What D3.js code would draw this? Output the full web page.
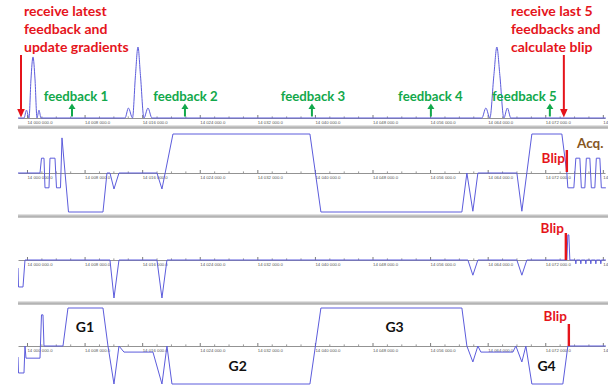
<!DOCTYPE html>
<html><head><meta charset="utf-8">
<script src="https://cdn.jsdelivr.net/npm/d3@7/dist/d3.min.js"></script>
<style>
body{margin:0;background:#fff}
svg{display:block}
text{font-family:Lato,"Open Sans",sans-serif}
</style>
</head><body>
<svg id="c" width="615" height="385"></svg>
<script>
// ---- data ----
const tickValues = [14000000,14008000,14016000,14024000,14032000,14040000,14048000,14056000,14064000,14072000,14080000];
const tickLabels = ["14 000 000.0","14 008 000.0","14 016 000.0","14 024 000.0","14 032 000.0","14 040 000.0","14 048 000.0","14 056 000.0","14 064 000.0","14 072 000.0","14"];

// RF (normalised magnitude)
const rfTimes = [13998750,13999583,13999931,14000278,14000556,14000833,14001111,14001389,14001667,14001944,
  14013611,14014097,14014653,14015069,14015417,14015764,14016250,14016806,14017361,
  14063194,14063750,14064306,14064861,14065278,14065694,14066250,14066736,14067222,14080400];
const rfAmps  = [0,0,0.11,0,0.55,0.86,0.55,0,0.11,0,
  0,0.14,0,0.6,1,0.6,0,0.14,0,
  0,0.14,0,0.6,1,0.6,0,0.14,0,0];

// Gradient 1 (readout axis)
const g1Times = [13998750,14001806,14002014,14002361,14002500,14003056,14003194,14003889,14004097,14004653,14004861,14005764,
  14010556,14011111,14011528,14012083,14012778,14018056,14018750,14020278,14039306,14040833,14060417,14061111,14061944,14062639,
  14068056,14068750,14070139,14074306,14075000,14075139,14075972,14076250,14076806,14077014,14077500,14077708,14078194,14078403,
  14078889,14079097,14079583,14079792,14080417];
const g1Amps  = [0,0,0.38,0.38,-0.38,-0.38,0.38,0.38,-0.38,-0.38,0.9,-1,
  -1,0,0,-0.41,0,0,-0.41,1,1,-1,-1,0,-0.98,0,
  0,-0.98,1,1,0,-0.38,-0.38,0.38,0.38,-0.38,-0.38,0.38,0.38,-0.38,
  -0.38,0.38,0.38,-0.38,-0.38];

// Gradient 2 (phase axis)
const g2Times = [13998750,13998819,13999444,13999722,14011528,14012083,14012778,14018056,14018750,14019444,
  14061250,14061944,14062639,14068056,14068750,14069444,14075000,14075139,14075278,14075417,
  14076190,14076250,14076310,14076880,14076944,14077000,14077580,14077640,14077700,
  14078270,14078330,14078390,14078970,14079030,14079090,14079660,14079720,14079780,14080417];
const g2Amps  = [-0.21,-0.71,-0.71,0,0,-1,0,0,-1,0,
  0,-0.4,0,0,-0.4,0,0,0.66,0.66,0,
  0,-0.1,0,0,-0.1,0,0,-0.1,0,
  0,-0.1,0,0,-0.1,0,0,-0.1,0,0];

// Gradient 3 (slice axis)
const g3Times = [13998750,13998819,13999583,13999722,13999861,14001806,14002014,14002222,14002361,14005000,14005694,
  14010556,14011250,14012083,14012778,14013472,14017500,14018750,14019444,14020139,14039306,14040833,
  14060417,14061111,14061944,14062639,14063056,14067500,14067917,14068750,14069306,14070139,14074444,14075139,14080417];
const g3Amps  = [-0.29,-0.71,-0.71,0,-0.32,-0.32,0.82,0.82,0,0,1,
  1,0,-1,0,-0.16,-0.16,-1,0,-1,-1,1,
  1,0,-0.42,0,-0.16,-0.16,0,-0.42,0,-1,-1,0,0];

const feedbackLabels = ["feedback 1","feedback 2","feedback 3","feedback 4","feedback 5"];
const feedbackTimes  = [14006250,14021944,14039583,14056111,14072639];
const feedbackLabelShift = [4,0.5,1,-0.5,-25.5];

const leftNote  = ["receive latest","feedback and","update gradients"];
const rightNote = ["receive last 5","feedbacks and","calculate blip"];
const receiveTimes = [13999167,14074583];
const blipTimes = [14075000,14074861,14075278];
const gradLabels = ["G1","G2","G3","G4"];
const gradLabelTimes = [14008042,14029264,14051069,14072181];
const gradLabelSide = [1,-1,1,-1];

// ---- drawing ----
const svg = d3.select("#c");
const W = 615, H = 385;
const x = d3.scaleLinear().domain([13998750,14080300]).range([18,605]);
const RED = "#e5141b", GREEN = "#12a84b", BLUE = "#5c5cdc", BROWN = "#86561f";

svg.append("defs").append("clipPath").attr("id","clip")
  .append("rect").attr("x",18).attr("y",0).attr("width",590).attr("height",H);

const panels = [
  {t: rfTimes, a: rfAmps, base: 118, unit: 71, rf: true},
  {t: g1Times, a: g1Amps, base: 173, unit: 39},
  {t: g2Times, a: g2Amps, base: 260, unit: 38},
  {t: g3Times, a: g3Amps, base: 346, unit: 38}
];
const separators = [127, 216, 303];

const plot = svg.append("g").attr("clip-path","url(#clip)");

// separators
separators.forEach(s => {
  plot.append("rect").attr("x",18).attr("y",s-1.5).attr("width",590).attr("height",3).attr("fill","#c4c4c4");
  plot.append("line").attr("x1",18).attr("x2",608).attr("y1",s+1).attr("y2",s+1).attr("stroke","#9c9c9c").attr("stroke-width",0.8);
});

const minorTicks = d3.range(13998000, 14082001, 2000).filter(v => !tickValues.includes(v));

panels.forEach(p => {
  const y = d3.scaleLinear().domain([-1,1]).range([p.base+p.unit, p.base-p.unit]);
  const g = plot.append("g");
  // axis
  const ax = g.append("g").attr("transform",`translate(0,${p.base})`)
    .call(d3.axisTop(x).tickValues(tickValues).tickSize(3).tickSizeOuter(0).tickFormat(""));
  ax.select(".domain").attr("stroke","#777").attr("stroke-width",0.8);
  ax.selectAll(".tick line").attr("stroke","#444").attr("stroke-width",0.7);
  const axm = g.append("g").attr("transform",`translate(0,${p.base})`)
    .call(d3.axisTop(x).tickValues(minorTicks).tickSize(1.6).tickSizeOuter(0).tickFormat(""));
  axm.select(".domain").remove();
  axm.selectAll(".tick line").attr("stroke","#555").attr("stroke-width",0.6);
  g.selectAll("text.tl").data(tickValues).join("text").attr("class","tl")
    .attr("x", d => x(d)+0.5).attr("y", p.base+5.5)
    .attr("font-size",4.3).attr("fill","#555")
    .style("font-family","Arial, 'Liberation Sans', sans-serif")
    .text((d,i) => tickLabels[i]);
  // waveform
  const line = d3.line().x((d,i) => x(p.t[i])).y(d => y(d))
    .curve(p.rf ? d3.curveMonotoneX : d3.curveLinear);
  g.append("path").attr("d", line(p.a)).attr("fill","none")
    .attr("stroke",BLUE).attr("stroke-width",1);
});

// red notes
const noteFont = 14;
[[leftNote,24],[rightNote,511]].forEach(([lines,x0]) => {
  svg.append("text").attr("fill",RED).attr("font-size",noteFont).attr("font-weight","bold")
    .selectAll("tspan").data(lines).join("tspan")
    .attr("x",x0).attr("y",(d,i) => 16 + i*18).text(d => d);
});

// red receive arrows
receiveTimes.forEach(t => {
  const xx = x(t);
  svg.append("line").attr("x1",xx).attr("x2",xx).attr("y1",55).attr("y2",110)
    .attr("stroke",RED).attr("stroke-width",2);
  svg.append("path").attr("d",`M${xx-3.8},${109}L${xx+3.8},${109}L${xx},${117.5}Z`).attr("fill",RED);
});

// green feedback arrows + labels
feedbackTimes.forEach((t,i) => {
  const xx = x(t);
  svg.append("line").attr("x1",xx).attr("x2",xx).attr("y1",116.5).attr("y2",108)
    .attr("stroke",GREEN).attr("stroke-width",2);
  svg.append("path").attr("d",`M${xx-3.5},${109}L${xx+3.5},${109}L${xx},${103.5}Z`).attr("fill",GREEN);
  svg.append("text").attr("x",xx+feedbackLabelShift[i]).attr("y",100.5)
    .attr("text-anchor","middle").attr("fill",GREEN).attr("font-size",13.2).attr("font-weight","bold")
    .text(feedbackLabels[i]);
});

// blip markers
const blipSpan = [[150,172],[233,260],[324,346]];
const blipText = [163,233,321];
blipTimes.forEach((t,i) => {
  const xx = x(t);
  svg.append("line").attr("x1",xx).attr("x2",xx).attr("y1",blipSpan[i][0]).attr("y2",blipSpan[i][1])
    .attr("stroke",RED).attr("stroke-width",2.4);
  svg.append("text").attr("x",xx-2).attr("y",blipText[i]).attr("text-anchor","end")
    .attr("fill",RED).attr("font-size",13.5).attr("font-weight","bold").text("Blip");
});
svg.append("text").attr("x",577).attr("y",148).attr("fill",BROWN)
  .attr("font-size",13.5).attr("font-weight","bold").text("Acq.");

// gradient labels
gradLabels.forEach((l,i) => {
  svg.append("text").attr("x",x(gradLabelTimes[i])).attr("y", gradLabelSide[i] > 0 ? 332 : 370.5)
    .attr("text-anchor","middle").attr("fill","#111").attr("font-size",14).attr("font-weight","bold").text(l);
});
</script>
</body></html>
